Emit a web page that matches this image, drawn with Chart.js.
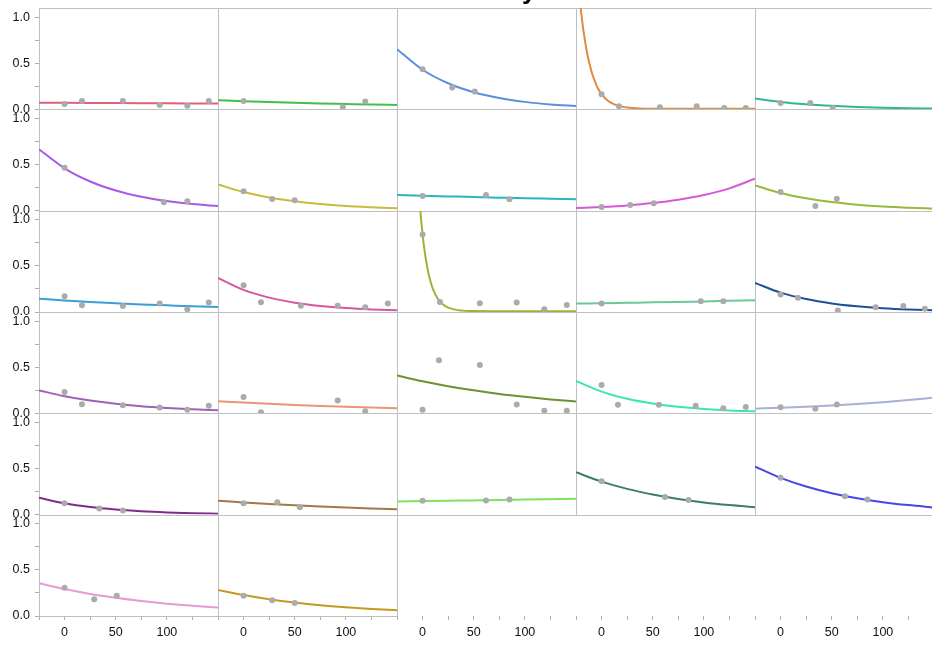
<!DOCTYPE html>
<html>
<head>
<meta charset="utf-8">
<script src="https://cdn.jsdelivr.net/npm/chart.js@4.4.0/dist/chart.umd.min.js"></script>
<style>
  html, body { margin: 0; padding: 0; background: #fff; overflow: hidden; width: 932px; height: 645px; }
  #wrap { position: relative; width: 932px; height: 645px; overflow: hidden; }
  #grid { position: absolute; left: 0; top: 0; }
  #title {
    position: absolute; left: 0; top: -23px; width: 972px; text-align: center;
    font: bold 26px "Liberation Sans", Arial, sans-serif; line-height: 26px;
    color: #000; white-space: nowrap;
  }
</style>
</head>
<body>
<div id="wrap">
  <canvas id="grid" width="934" height="645"></canvas>
  <div id="title">Stability</div>
</div>
<script>
// Times at which each fitted curve is sampled
const fitGrid = [-25, 0, 25, 50, 75, 100, 125, 150];
// Finer sampling for the two fast-decaying fits
const steepGrid = [-25, -20, -15, -10, -5, -2.5, 0, 2.5, 5, 7.5, 10, 15, 20, 25, 37.5, 50, 75, 100, 125, 150];

const xTickLabels = [0, 50, 100];
const yTickLabels = ['0.0', '0.5', '1.0'];

// Measured time points per panel (row by row, five panels per row)
const obsTimes = [
  [0, 17, 57, 93, 120, 141], [0, 97, 119], [0, 29, 51], [0, 17, 57, 93, 120, 141], [0, 29, 51],
  [0, 97, 120], [0, 28, 50], [0, 62, 85], [0, 28, 51], [0, 34, 55],
  [0, 17, 57, 93, 120, 141], [0, 17, 56, 92, 119, 141], [0, 17, 56, 92, 119, 141], [0, 97, 119], [0, 17, 56, 93, 120, 141],
  [0, 17, 57, 93, 120, 141], [0, 17, 92, 119], [0, 16, 56, 92, 119, 141], [0, 16, 56, 92, 119, 141], [0, 34, 55],
  [0, 34, 57], [0, 33, 55], [0, 62, 85], [0, 62, 85], [0, 63, 85],
  [0, 29, 51], [0, 28, 50]
];

// Measured fractions per panel
const obsValues = [
  [0.058, 0.091, 0.091, 0.047, 0.040, 0.091], [0.091, 0.026, 0.084], [0.434, 0.237, 0.193], [0.164, 0.033, 0.022, 0.033, 0.015, 0.015], [0.069, 0.069, 0.015],
  [0.466, 0.091, 0.102], [0.211, 0.128, 0.113], [0.159, 0.170, 0.123], [0.040, 0.062, 0.080], [0.203, 0.051, 0.130],
  [0.171, 0.073, 0.065, 0.091, 0.029, 0.102], [0.290, 0.105, 0.069, 0.069, 0.051, 0.091], [0.842, 0.109, 0.094, 0.102, 0.029, 0.076], [0.091, 0.116, 0.116], [0.189, 0.156, 0.015, 0.051, 0.065, 0.036],
  [0.231, 0.099, 0.088, 0.062, 0.040, 0.081], [0.176, 0.011, 0.139, 0.022], [0.040, 0.576, 0.524, 0.095, 0.029, 0.029], [0.308, 0.092, 0.092, 0.081, 0.055, 0.070], [0.066, 0.051, 0.095],
  [0.125, 0.066, 0.044], [0.125, 0.136, 0.081], [0.151, 0.154, 0.165], [0.364, 0.191, 0.158], [0.401, 0.199, 0.165],
  [0.308, 0.181, 0.221], [0.221, 0.170, 0.141]
];

// Fitted curve values on fitGrid (or steepGrid for the fast decays)
const fitValues = [
  [0.072, 0.0705, 0.069, 0.0675, 0.066, 0.065, 0.0635, 0.062],
  [0.098, 0.088, 0.079, 0.071, 0.064, 0.058, 0.052, 0.047],
  [0.653, 0.43, 0.283, 0.186, 0.123, 0.081, 0.053, 0.035],
  [1.683, 1.054, 0.660, 0.415, 0.261, 0.207, 0.165, 0.1315, 0.105, 0.084, 0.0675, 0.044, 0.0294, 0.0203, 0.0097, 0.0065, 0.0051, 0.005, 0.005, 0.005],
  [0.117, 0.08, 0.055, 0.038, 0.026, 0.018, 0.012, 0.008],
  [0.667, 0.46, 0.317, 0.219, 0.151, 0.104, 0.072, 0.050],
  [0.284, 0.202, 0.143, 0.102, 0.072, 0.051, 0.037, 0.026],
  [0.170, 0.162, 0.155, 0.148, 0.1415, 0.135, 0.129, 0.123],
  [0.028, 0.040, 0.057, 0.082, 0.118, 0.169, 0.242, 0.347],
  [0.275, 0.192, 0.134, 0.093, 0.065, 0.045, 0.032, 0.022],
  [0.145, 0.126, 0.109, 0.095, 0.082, 0.072, 0.062, 0.054],
  [0.370, 0.240, 0.156, 0.101, 0.066, 0.043, 0.028, 0.018],
  [17.6, 9.58, 5.21, 2.83, 1.545, 1.141, 0.843, 0.6235, 0.462, 0.342, 0.2545, 0.142, 0.081, 0.0476, 0.0166, 0.0099, 0.0081, 0.008, 0.008, 0.008],
  [0.091, 0.0954, 0.100, 0.1045, 0.1095, 0.115, 0.121, 0.127],
  [0.316, 0.210, 0.140, 0.093, 0.062, 0.041, 0.027, 0.018],
  [0.249, 0.186, 0.139, 0.104, 0.078, 0.059, 0.044, 0.033],
  [0.132, 0.1165, 0.1028, 0.0907, 0.080, 0.0706, 0.0623, 0.055],
  [0.411, 0.348, 0.295, 0.250, 0.211, 0.179, 0.151, 0.128],
  [0.352, 0.236, 0.158, 0.106, 0.071, 0.048, 0.032, 0.0215],
  [0.051, 0.0606, 0.072, 0.0856, 0.1017, 0.121, 0.1435, 0.1706],
  [0.184, 0.123, 0.082, 0.055, 0.0367, 0.0245, 0.0164, 0.011],
  [0.151, 0.132, 0.1154, 0.101, 0.088, 0.077, 0.0675, 0.059],
  [0.143, 0.147, 0.151, 0.155, 0.159, 0.164, 0.1685, 0.173],
  [0.460, 0.359, 0.280, 0.219, 0.171, 0.133, 0.104, 0.081],
  [0.522, 0.399, 0.305, 0.233, 0.178, 0.136, 0.104, 0.079],
  [0.355, 0.292, 0.240, 0.198, 0.163, 0.134, 0.110, 0.091],
  [0.283, 0.228, 0.183, 0.147, 0.118, 0.0955, 0.077, 0.062]
];

// Line colour of each panel's fit
const fitColors = [
  '#e0607a', '#43bf4a', '#5b8fe0', '#df8a45', '#2fb98c',
  '#a65ae6', '#c8bb3f', '#29b6be', '#d65ad8', '#97ba3a',
  '#3a9fd6', '#d8559f', '#9fb338', '#6cc898', '#1f4f99',
  '#9e62b8', '#ec9576', '#6e9131', '#3ae6b2', '#a9b1da',
  '#7f2c88', '#a67845', '#80e05f', '#3c7c71', '#4747e2',
  '#e79ad6', '#c49a26'
];

const COLS = 5, ROWS = 6;
const pointGray = '#ababab';
const frameGray = '#c0c0c0';
const tickGray = '#b0b0b0';
const labelFont = { family: '"Liberation Sans", Arial, Helvetica, sans-serif', size: 12.5 };

// One x axis per column and one y axis per row, stacked into a grid
const scales = {};
for (let c = 0; c < COLS; c++) {
  scales['x' + c] = {
    type: 'linear', position: 'bottom', stack: 'cols', stackWeight: 1, weight: c,
    min: -25, max: 150,
    border: { display: false },
    grid: { drawOnChartArea: false, drawTicks: true, tickLength: 4, color: tickGray, tickColor: tickGray },
    ticks: {
      stepSize: 25, autoSkip: false, maxRotation: 0, minRotation: 0, includeBounds: false,
      padding: 5, color: '#111', font: labelFont,
      callback: v => (xTickLabels.includes(v) ? String(v) : '')
    },
    afterFit: s => { s.height = 29; s.paddingLeft = 0; s.paddingRight = 0; }
  };
}
for (let r = 0; r < ROWS; r++) {
  scales['y' + r] = {
    type: 'linear', position: 'left', stack: 'rows', stackWeight: 1, weight: ROWS - r,
    min: 0, max: 1.1,
    border: { display: false },
    grid: { drawOnChartArea: false, drawTicks: true, tickLength: 4, color: tickGray, tickColor: tickGray },
    ticks: {
      stepSize: 0.25, autoSkip: false, includeBounds: false, padding: 5, color: '#111', font: labelFont,
      callback: v => {
        const lbl = Number(v).toFixed(1);
        return (Math.abs(v * 2 - Math.round(v * 2)) < 1e-9 && yTickLabels.includes(lbl)) ? lbl : '';
      }
    },
    afterFit: s => { s.width = 39; s.paddingTop = 0; s.paddingBottom = 0; }
  };
}

const datasets = [];
obsTimes.forEach((times, i) => {
  const r = Math.floor(i / COLS), c = i % COLS;
  datasets.push({
    label: 'observed ' + (i + 1),
    xAxisID: 'x' + c, yAxisID: 'y' + r,
    data: times.map((t, k) => ({ x: t, y: obsValues[i][k] })),
    showLine: false, pointRadius: 3, pointBorderWidth: 0,
    pointBackgroundColor: pointGray, backgroundColor: pointGray, order: 0
  });
  const grid = fitValues[i].length === steepGrid.length ? steepGrid : fitGrid;
  datasets.push({
    label: 'fit ' + (i + 1),
    xAxisID: 'x' + c, yAxisID: 'y' + r,
    data: grid.map((t, k) => ({ x: t, y: fitValues[i][k] })),
    borderColor: fitColors[i], borderWidth: 2, pointRadius: 0, fill: false,
    cubicInterpolationMode: 'monotone', order: 1
  });
});

// Keep every dataset inside its own panel
const panelClip = {
  id: 'panelClip',
  beforeDatasetDraw(chart, args) {
    const { xScale, yScale } = args.meta;
    const ctx = chart.ctx;
    ctx.save();
    ctx.beginPath();
    ctx.rect(xScale.left, yScale.top, xScale.right - xScale.left, yScale.bottom - yScale.top);
    ctx.clip();
  },
  afterDatasetDraw(chart) {
    chart.ctx.restore();
  }
};

// Thin border round each panel that holds data
const panelFrames = {
  id: 'panelFrames',
  beforeDatasetsDraw(chart) {
    const ctx = chart.ctx;
    ctx.save();
    ctx.strokeStyle = frameGray;
    ctx.lineWidth = 1;
    ctx.beginPath();
    obsTimes.forEach((_, i) => {
      const xs = chart.scales['x' + (i % COLS)];
      const ys = chart.scales['y' + Math.floor(i / COLS)];
      const l = Math.round(xs.left) + 0.5, rgt = Math.round(xs.right) + 0.5;
      const t = Math.round(ys.top) + 0.5, b = Math.round(ys.bottom) + 0.5;
      ctx.rect(l, t, rgt - l, b - t);
    });
    ctx.stroke();
    ctx.restore();
  }
};

new Chart(document.getElementById('grid'), {
  type: 'line',
  data: { datasets },
  options: {
    responsive: false,
    maintainAspectRatio: false,
    devicePixelRatio: 1,
    animation: false,
    events: [],
    layout: { autoPadding: false, padding: { top: 8, left: 0, right: 0, bottom: 0 } },
    plugins: { legend: { display: false }, tooltip: { enabled: false }, title: { display: false } },
    scales
  },
  plugins: [panelClip, panelFrames]
});
</script>
</body>
</html>
